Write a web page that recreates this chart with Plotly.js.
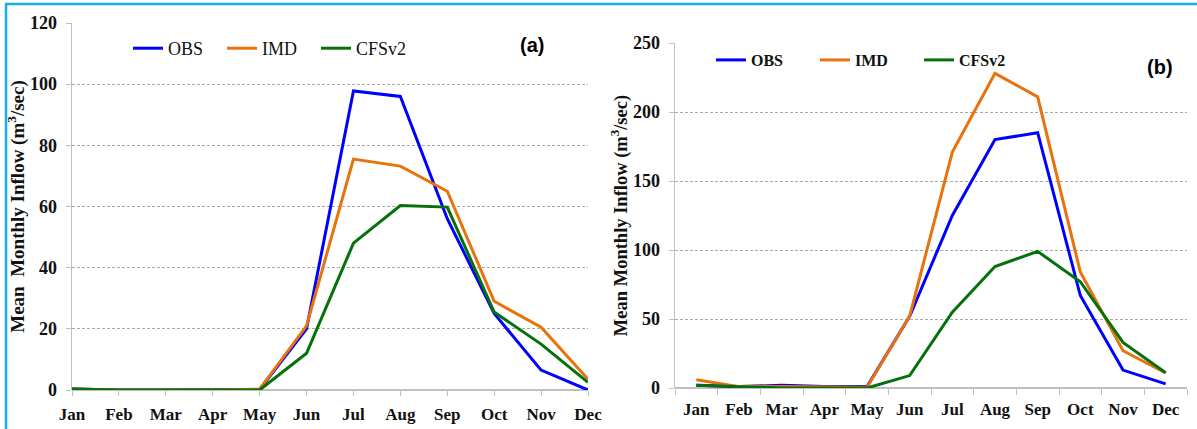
<!DOCTYPE html>
<html>
<head>
<meta charset="utf-8">
<script src="https://cdn.plot.ly/plotly-3.0.1.min.js"></script>
<style>html,body{margin:0;padding:0;background:#fff;}#chart{width:1197px;height:429px;}</style>
</head>
<body>
<div id="chart"></div>
<script>
const months = ['Jan','Feb','Mar','Apr','May','Jun','Jul','Aug','Sep','Oct','Nov','Dec'];
const seriesNames = ['OBS','IMD','CFSv2'];
// Panel (a)
const obsA   = [0.3, 0, 0, 0, 0.2, 20, 97.8, 96, 56, 25, 6.5, 0];
const imdA   = [0.3, 0, 0, 0, 0.3, 21, 75.5, 73.2, 65, 29, 20.5, 3.5];
const cfsA   = [0.3, 0, 0, 0, 0, 12, 48, 60.3, 59.8, 25.5, 15, 2.5];
// Panel (b)
const obsB   = [2, 1, 2, 1, 1, 52, 125, 180, 185, 67, 13, 3];
const imdB   = [6, 1, 1, 0.5, 0.5, 52, 171, 228, 211, 84, 27, 11];
const cfsB   = [2, 1, 0, 0, 0, 9, 55, 88, 99, 77, 33, 11];
const yTitle = 'Mean  Monthly Inflow (m<sup>3</sup>/sec)';
const yTitleB = 'Mean Monthly Inflow (m<sup>3</sup>/sec)';

const colors = ['#0000FF', '#E8720C', '#06700A'];
const serif = 'Liberation Serif, Times New Roman, serif';

function mk(y, i, xa, ya, leg) {
  return {x: months, y: y, name: seriesNames[i], type: 'scatter', mode: 'lines',
    xaxis: xa, yaxis: ya, legend: leg,
    line: {color: colors[i], width: 3}};
}
const data = [
  mk(obsA, 0, 'x', 'y', 'legend'), mk(imdA, 1, 'x', 'y', 'legend'), mk(cfsA, 2, 'x', 'y', 'legend'),
  mk(obsB, 0, 'x2', 'y2', 'legend2'), mk(imdB, 1, 'x2', 'y2', 'legend2'), mk(cfsB, 2, 'x2', 'y2', 'legend2')
];

const W = 1197, H = 429;
const px = v => v / W, py = v => 1 - v / H;
const tickFont = () => ({family: serif, size: 17, color: '#111', weight: 'bold'});
const yTickFont = () => ({family: serif, size: 18, color: '#111', weight: 'bold'});
const gridC = '#A8A8A8', axC = '#BFBFBF';

const layout = {
  width: W, height: H,
  margin: {l: 0, r: 0, t: 0, b: 0},
  paper_bgcolor: '#fff', plot_bgcolor: '#fff',
  showlegend: true,
  xaxis: {domain: [px(72), px(588)], type: 'category', range: [0, 11],
    showline: false, showgrid: false, zeroline: false,
    ticks: 'outside', ticklen: 5, tickcolor: axC, tickwidth: 1,
    tickfont: tickFont(), ticklabelstandoff: 4, anchor: 'y'},
  yaxis: {domain: [py(390), py(23)], range: [0, 120], dtick: 20,
    showline: true, linecolor: axC, linewidth: 1.5,
    showgrid: true, gridcolor: gridC, griddash: '3px,2px', gridwidth: 1,
    zeroline: true, zerolinecolor: axC, zerolinewidth: 1.5,
    ticks: 'outside', ticklen: 5, tickcolor: axC,
    tickfont: yTickFont(), ticklabelstandoff: 5, anchor: 'x',
    title: {text: yTitle, font: {family: serif, size: 19, color: '#111', weight: 'bold'}, standoff: 0}},
  xaxis2: {domain: [px(675), px(1187)], type: 'category', range: [-0.5, 11.5],
    showline: false, showgrid: false, zeroline: false,
    ticks: 'outside', tickson: 'boundaries', ticklen: 6, tickcolor: axC, tickwidth: 1,
    tickfont: tickFont(), ticklabelstandoff: 9, anchor: 'y2'},
  yaxis2: {domain: [py(388), py(43)], range: [0, 250], dtick: 50,
    showline: true, linecolor: axC, linewidth: 1.5,
    showgrid: true, gridcolor: gridC, griddash: '3px,2px', gridwidth: 1,
    zeroline: true, zerolinecolor: axC, zerolinewidth: 1.5,
    ticks: 'outside', ticklen: 5, tickcolor: axC,
    tickfont: yTickFont(), ticklabelstandoff: 5, anchor: 'x2',
    title: {text: yTitleB, font: {family: serif, size: 18.5, color: '#111', weight: 'bold'}, standoff: 0}},
  legend: {orientation: 'h', x: px(128), y: py(30), xanchor: 'left', yanchor: 'top',
    bgcolor: 'rgba(0,0,0,0)', entrywidth: 49, entrywidthmode: 'pixels',
    font: {family: serif, size: 18, color: '#111'}},
  legend2: {orientation: 'h', x: px(711), y: py(43), xanchor: 'left', yanchor: 'top',
    bgcolor: 'rgba(0,0,0,0)', entrywidth: 59, entrywidthmode: 'pixels',
    font: {family: serif, size: 16, color: '#111', weight: 'bold'}},
  annotations: [
    {text: '(a)', xref: 'paper', yref: 'paper', x: px(532), y: py(45), xanchor: 'center', yanchor: 'middle', showarrow: false,
      font: {family: 'Liberation Sans, Arial, sans-serif', size: 20, color: '#000', weight: 'bold'}},
    {text: '(b)', xref: 'paper', yref: 'paper', x: px(1160), y: py(67), xanchor: 'center', yanchor: 'middle', showarrow: false,
      font: {family: 'Liberation Sans, Arial, sans-serif', size: 20, color: '#000', weight: 'bold'}}
  ],
  shapes: [
    {type: 'line', xref: 'paper', yref: 'paper', x0: px(5), x1: 1, y0: py(4), y1: py(4), line: {color: '#14AEEA', width: 2.5}},
    {type: 'line', xref: 'paper', yref: 'paper', x0: px(6), x1: px(6), y0: 0, y1: py(4), line: {color: '#14AEEA', width: 2.5}}
  ]
};

Plotly.newPlot('chart', data, layout, {staticPlot: true, displayModeBar: false});
</script>
</body>
</html>
